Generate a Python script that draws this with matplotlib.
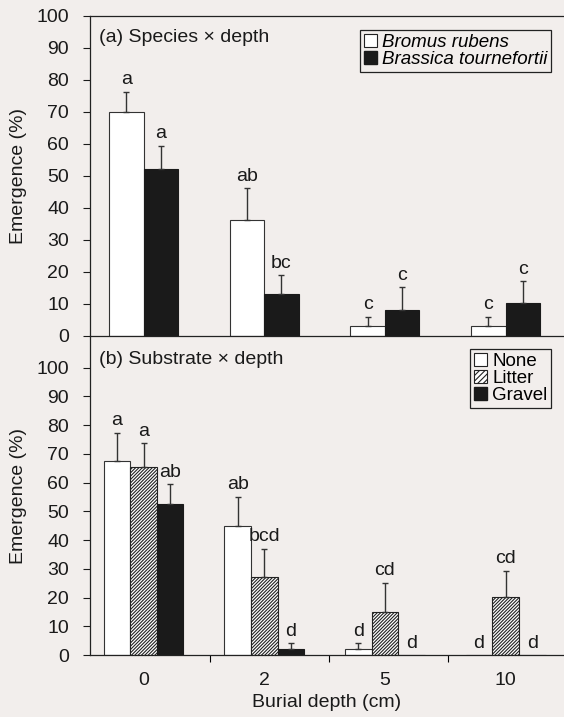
import matplotlib.pyplot as plt
import numpy as np
from matplotlib.patches import Patch

plt.rcParams['font.family'] = ['Liberation Sans', 'DejaVu Sans']
plt.rcParams['hatch.linewidth'] = 0.8

# burial depth groups
depths = ["0", "2", "5", "10"]

# (a) species x depth
bromus = [70.0, 36.1, 3.0, 3.0]
bromus_err = [6.3, 10.1, 3.0, 3.0]
bromus_lbl = ["a", "ab", "c", "c"]
brassica = [52.3, 13.1, 8.1, 10.2]
brassica_err = [7.1, 5.9, 7.1, 6.9]
brassica_lbl = ["a", "bc", "c", "c"]

# (b) substrate x depth
none = [67.4, 45.0, 2.1, 0.0]
none_err = [10.0, 10.1, 2.0, 0.0]
none_lbl = ["a", "ab", "d", "d"]
litter = [65.4, 27.0, 15.0, 20.2]
litter_err = [8.3, 10.0, 10.2, 9.2]
litter_lbl = ["a", "bcd", "cd", "cd"]
gravel = [52.4, 2.0, 0.0, 0.0]
gravel_err = [7.1, 2.1, 0.0, 0.0]
gravel_lbl = ["ab", "d", "d", "d"]

bg = '#f2eeec'
ink = '#1a1a1a'
W, H = 564, 717
FS = 14
HATCH = '/' * 10

fig = plt.figure(figsize=(W / 100, H / 100), dpi=100, facecolor=bg)
axB = fig.add_axes([90 / W, 1 - 655 / H, 1 - 90 / W, (655 - 336) / H])
axA = fig.add_axes([90 / W, 1 - 336 / H, 1 - 90 / W, (336 - 16) / H])

x = np.arange(len(depths))
step = 120.7  # pixels per category


def draw(ax, vals, errs, lbls, offs, width, styles):
    for v, e, l, o, st in zip(vals, errs, lbls, offs, styles):
        pos = x + o * width
        ax.bar(pos, v, width, color=st[0], edgecolor=st[1], hatch=st[2],
               linewidth=0.8, zorder=2)
        ee = np.array(e)
        ax.errorbar(pos[ee > 0], np.array(v)[ee > 0],
                    yerr=[np.zeros((ee > 0).sum()), ee[ee > 0]],
                    fmt='none', ecolor='#333333', elinewidth=1.0,
                    capsize=2.5, capthick=1.0, zorder=3)
        for p, vv, eee, t in zip(pos, v, e, l):
            ax.annotate(t, (p, vv + eee), xytext=(0, 2.5), textcoords='offset points',
                        ha='center', va='bottom', fontsize=FS, color=ink)


wa = 34.5 / step
draw(axA, [bromus, brassica], [bromus_err, brassica_err],
     [bromus_lbl, brassica_lbl], [-0.5, 0.5], wa,
     [('white', '#333333', None), (ink, ink, None)])

wb = 26.6 / step
draw(axB, [none, litter, gravel], [none_err, litter_err, gravel_err],
     [none_lbl, litter_lbl, gravel_lbl], [-1, 0, 1], wb,
     [('white', '#333333', None), ('white', '#222222', HATCH), (ink, ink, None)])

for ax, top in [(axA, 100), (axB, 111)]:
    ax.set_facecolor('none')
    ax.set_xlim(-53.5 / step, (564 - 143.5) / step)
    ax.set_ylim(0, top)
    ax.set_yticks(np.arange(0, 101, 10))
    ax.tick_params(axis='y', direction='out', length=5, width=0.8,
                   labelsize=FS, colors=ink, pad=10)
    ax.spines['right'].set_visible(False)
    for s in ['left', 'bottom', 'top']:
        ax.spines[s].set_color('#222222')
        ax.spines[s].set_linewidth(0.9)
    ax.set_ylabel("Emergence (%)", fontsize=FS, color=ink, labelpad=7)

axA.set_xticks([])
axB.spines['top'].set_visible(False)
axB.set_xticks([0.55, 1.535, 2.52])
axB.set_xticks(x, minor=True)
axB.set_xticklabels([])
axB.set_xticklabels(depths, minor=True)
axB.tick_params(axis='x', which='major', direction='out', length=5, width=0.8)
axB.tick_params(axis='x', which='minor', length=0, labelsize=FS, pad=12, colors=ink)
axB.set_xlabel("Burial depth (cm)", fontsize=FS, color=ink, labelpad=4)

fig.text(99 / W, 1 - 38 / H, "(a) Species \u00d7 depth",
         fontsize=FS, va='center', ha='left', color=ink)
fig.text(99 / W, 1 - 359 / H, "(b) Substrate \u00d7 depth",
         fontsize=FS, va='center', ha='left', color=ink)

legA = axA.legend([Patch(facecolor='white', edgecolor='#222222', linewidth=0.8),
                   Patch(facecolor=ink, edgecolor=ink)],
                  ["Bromus rubens", "Brassica tournefortii"],
                  loc='upper right', bbox_to_anchor=(551 / W, 1 - 30 / H),
                  bbox_transform=fig.transFigure, fancybox=False, framealpha=1,
                  edgecolor='#222222', facecolor=bg,
                  prop={'size': 13.5, 'style': 'italic'},
                  handlelength=0.7, handleheight=0.7, handletextpad=0.25,
                  borderpad=0.2, labelspacing=0.0, borderaxespad=0)
legA.get_frame().set_linewidth(0.9)

legB = axB.legend([Patch(facecolor='white', edgecolor='#222222', linewidth=0.8),
                   Patch(facecolor='white', edgecolor='#222222', hatch='//////', linewidth=0.8),
                   Patch(facecolor=ink, edgecolor=ink)],
                  ["None", "Litter", "Gravel"],
                  loc='upper right', bbox_to_anchor=(551 / W, 1 - 349 / H),
                  bbox_transform=fig.transFigure, fancybox=False, framealpha=1,
                  edgecolor='#222222', facecolor=bg, prop={'size': 13.5},
                  handlelength=0.7, handleheight=0.7, handletextpad=0.25,
                  borderpad=0.2, labelspacing=0.0, borderaxespad=0)
legB.get_frame().set_linewidth(0.9)

fig.savefig("out.png", dpi=100, facecolor=bg)
